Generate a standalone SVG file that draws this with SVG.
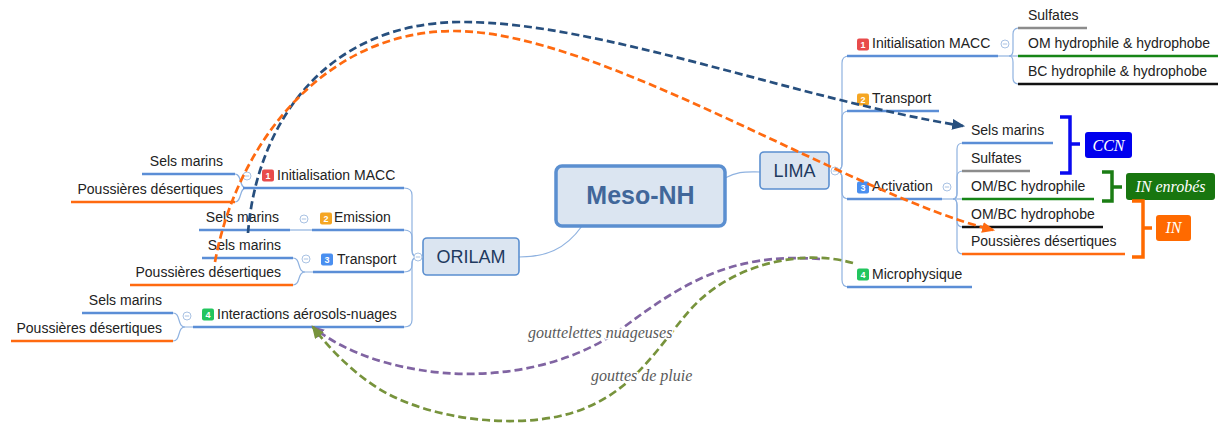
<svg xmlns="http://www.w3.org/2000/svg" width="1218" height="423" viewBox="0 0 1218 423">
<style>
.t{font-family:"Liberation Sans",Arial,sans-serif;font-size:14px;fill:#222}
.e{text-anchor:end}
.ul{fill:none;stroke-width:2.6}
.b{stroke:#5b8ed6}.o{stroke:#ff6a10}.g{stroke:#8c8c8c}.gr{stroke:#168516}.k{stroke:#111}
.thin{fill:none;stroke:#8fb2e0;stroke-width:1.2}
.ic{font-family:"Liberation Sans",Arial,sans-serif;font-size:9px;font-weight:bold;fill:#fff;text-anchor:middle}
.box{fill:#dbe5f1;stroke:#5b8fd0}
.lab{font-family:"Liberation Serif","Times New Roman",serif;font-style:italic;font-size:16px}
.tag{font-family:"Liberation Serif","Times New Roman",serif;font-style:italic;font-size:16px;fill:#fff;text-anchor:middle}
.dash{fill:none;stroke-width:2.7;stroke-dasharray:8 4}
</style>
<defs>
<g id="col"><circle r="4" fill="#fff" stroke="#a9c2e3" stroke-width="1"/><line x1="-2.2" x2="2.2" y1="0" y2="0" stroke="#a9c2e3" stroke-width="1"/></g>
<marker id="mB" viewBox="0 0 12 10" refX="10" refY="5" markerWidth="13" markerHeight="11" markerUnits="userSpaceOnUse" orient="auto"><path d="M0,0 L12,5 L0,10 z" fill="#274f7e"/></marker>
<marker id="mO" viewBox="0 0 12 10" refX="10" refY="5" markerWidth="13" markerHeight="11" markerUnits="userSpaceOnUse" orient="auto"><path d="M0,0 L12,5 L0,10 z" fill="#ff6a10"/></marker>
<marker id="mP" viewBox="0 0 12 10" refX="10" refY="5" markerWidth="13" markerHeight="11" markerUnits="userSpaceOnUse" orient="auto"><path d="M0,0 L12,5 L0,10 z" fill="#8064a2"/></marker>
<marker id="mG" viewBox="0 0 12 10" refX="10" refY="5" markerWidth="13" markerHeight="11" markerUnits="userSpaceOnUse" orient="auto"><path d="M0,0 L12,5 L0,10 z" fill="#77933c"/></marker>
</defs>
<rect width="1218" height="423" fill="#fff"/>

<g id="tree-lines">
<path class="thin" d="M725,178 C738,171 745,172 760,172"/>
<path class="thin" d="M582,226 C565,250 545,257 519,257"/>
<path class="thin" d="M418,257 Q412,257 412,250 V195 Q412,188 404,188"/>
<path class="thin" d="M418,257 Q412,257 412,250 V237 Q412,230 404,230"/>
<path class="thin" d="M418,257 Q412,257 412,263 V265 Q412,272 404,272"/>
<path class="thin" d="M418,257 Q412,257 412,264 V320 Q412,327 404,327"/>
<path class="thin" d="M235,174 C242,174 239,188 246,188"/>
<path class="thin" d="M235,202 C242,202 239,188 246,188"/>
<path class="thin" d="M290,230 H312"/>
<path class="thin" d="M293,258 C301,258 297,272 305,272 H313"/>
<path class="thin" d="M293,285 C301,285 297,272 305,272"/>
<path class="thin" d="M173,313 C181,313 177,327 185,327 H193"/>
<path class="thin" d="M173,341 C181,341 177,327 185,327"/>
<path class="thin" d="M835,171 Q842,171 842,164 V63 Q842,56 849,56"/>
<path class="thin" d="M835,171 Q842,171 842,164 V118 Q842,111 849,111"/>
<path class="thin" d="M835,171 Q842,171 842,178 V192 Q842,199 849,199"/>
<path class="thin" d="M835,171 Q842,171 842,178 V280 Q842,287 849,287"/>
<path class="thin" d="M998,56 H1018"/>
<path class="thin" d="M1009,56 Q1013,56 1013,50 V34 Q1013,28 1019,28"/>
<path class="thin" d="M1009,56 Q1013,56 1013,62 V78 Q1013,84 1019,84"/>
<path class="thin" d="M942,199 H962"/>
<path class="thin" d="M953,199 Q957,199 957,193 V149 Q957,143 963,143"/>
<path class="thin" d="M953,199 Q957,199 957,193 V177 Q957,171 963,171"/>
<path class="thin" d="M953,199 Q957,199 957,205 V221 Q957,227 963,227"/>
<path class="thin" d="M953,199 Q957,199 957,205 V248 Q957,254 963,254"/>
</g>

<g id="meso-nh"><rect class="box" x="556" y="166" width="169" height="60" rx="6" stroke-width="3.5"/><text x="640.5" y="204" text-anchor="middle" style="font-family:'Liberation Sans',Arial,sans-serif;font-size:25px;font-weight:bold;fill:#41679a">Meso-NH</text></g>
<g id="lima"><rect class="box" x="760" y="152" width="69" height="37" rx="4" stroke-width="1.6"/><text x="794.5" y="177" text-anchor="middle" style="font-family:'Liberation Sans',Arial,sans-serif;font-size:18px;fill:#1f3a5f">LIMA</text></g>
<g id="orilam"><rect class="box" x="423" y="238" width="96" height="37" rx="4" stroke-width="1.6"/><text x="471" y="263" text-anchor="middle" style="font-family:'Liberation Sans',Arial,sans-serif;font-size:18px;fill:#1f3a5f">ORILAM</text></g>

<g id="o-macc"><path class="ul b" d="M243,188 H404"/><rect x="262" y="169.5" width="12" height="12" rx="2" fill="#e84b4b"/><text class="ic" x="268" y="179">1</text><text class="t" x="277" y="180">Initialisation MACC</text></g>
<g id="o-macc-sels"><path class="ul b" d="M142,174 H235"/><text class="t e" x="223" y="166">Sels marins</text></g>
<g id="o-macc-pouss"><path class="ul o" d="M71,202 H235"/><text class="t e" x="223" y="194">Poussières désertiques</text></g>
<g id="o-emission"><path class="ul b" d="M312,230 H404"/><rect x="320" y="212.5" width="12" height="12" rx="2" fill="#f5a623"/><text class="ic" x="326" y="222">2</text><text class="t" x="334" y="222">Emission</text></g>
<g id="o-emission-sels"><path class="ul b" d="M199,230 H290"/><text class="t e" x="279" y="222">Sels marins</text></g>
<g id="o-transport"><path class="ul b" d="M313,272 H404"/><rect x="321" y="253.5" width="12" height="12" rx="2" fill="#4a8ff0"/><text class="ic" x="327" y="263">3</text><text class="t" x="337" y="264">Transport</text></g>
<g id="o-transport-sels"><path class="ul b" d="M202,258 H293"/><text class="t e" x="281" y="250">Sels marins</text></g>
<g id="o-transport-pouss"><path class="ul o" d="M130,285 H293"/><text class="t e" x="281" y="277">Poussières désertiques</text></g>
<g id="o-inter"><path class="ul b" d="M193,327 H404"/><rect x="202" y="308.5" width="12" height="12" rx="2" fill="#22c55e"/><text class="ic" x="208" y="318">4</text><text class="t" x="217" y="319">Interactions aérosols-nuages</text></g>
<g id="o-inter-sels"><path class="ul b" d="M82,313 H173"/><text class="t e" x="162" y="305">Sels marins</text></g>
<g id="o-inter-pouss"><path class="ul o" d="M11,341 H173"/><text class="t e" x="162" y="333">Poussières désertiques</text></g>

<g id="l-macc"><path class="ul b" d="M847,56 H998"/><rect x="857" y="38.5" width="12" height="12" rx="2" fill="#e84b4b"/><text class="ic" x="863" y="48">1</text><text class="t" x="872" y="48">Initialisation MACC</text></g>
<g id="l-macc-sulf"><path class="ul g" d="M1018,28 H1087"/><text class="t" x="1028" y="20">Sulfates</text></g>
<g id="l-macc-om"><path class="ul gr" d="M1018,56 H1218"/><text class="t" x="1028" y="48">OM hydrophile &amp; hydrophobe</text></g>
<g id="l-macc-bc"><path class="ul k" d="M1018,84 H1218"/><text class="t" x="1028" y="76">BC hydrophile &amp; hydrophobe</text></g>
<g id="l-transport"><path class="ul b" d="M847,111 H939"/><rect x="857" y="93.5" width="12" height="12" rx="2" fill="#f5a623"/><text class="ic" x="863" y="103">2</text><text class="t" x="872" y="103">Transport</text></g>
<g id="l-activation"><path class="ul b" d="M847,199 H942"/><rect x="857" y="181.5" width="12" height="12" rx="2" fill="#4a8ff0"/><text class="ic" x="863" y="191">3</text><text class="t" x="872" y="191">Activation</text></g>
<g id="l-act-sels"><path class="ul b" d="M962,143 H1053"/><text class="t" x="971" y="135">Sels marins</text></g>
<g id="l-act-sulf"><path class="ul g" d="M962,171 H1030"/><text class="t" x="971" y="163">Sulfates</text></g>
<g id="l-act-phil"><path class="ul gr" d="M962,199 H1094"/><text class="t" x="971" y="191">OM/BC hydrophile</text></g>
<g id="l-act-phob"><path class="ul k" d="M962,227 H1103"/><text class="t" x="971" y="219">OM/BC hydrophobe</text></g>
<g id="l-act-pouss"><path class="ul o" d="M962,254 H1125"/><text class="t" x="971" y="246">Poussières désertiques</text></g>
<g id="l-micro"><path class="ul b" d="M847,287 H972"/><rect x="857" y="268.5" width="12" height="12" rx="2" fill="#22c55e"/><text class="ic" x="863" y="278">4</text><text class="t" x="872" y="279">Microphysique</text></g>

<g id="collapse">
<use href="#col" x="247" y="176"/><use href="#col" x="304" y="219"/><use href="#col" x="306" y="259"/><use href="#col" x="187" y="316"/><use href="#col" x="418" y="257"/>
<use href="#col" x="835" y="171"/><use href="#col" x="1005" y="44"/><use href="#col" x="947" y="187"/>
</g>

<g id="ccn"><path d="M1060,117 H1070 V173 H1060 M1070,144 H1080" fill="none" stroke="#0a0af0" stroke-width="3.5"/><rect x="1085" y="132" width="47" height="26" rx="3" fill="#0000ee"/><text class="tag" x="1108.5" y="151">CCN</text></g>
<g id="in-enrobes"><path d="M1102,172 H1112 V201 H1102 M1112,187 H1122" fill="none" stroke="#1b7d14" stroke-width="3.5"/><rect x="1126" y="173" width="89" height="27" rx="3" fill="#18760f"/><text class="tag" x="1170.5" y="192">IN enrobés</text></g>
<g id="in"><path d="M1132,201 H1143 V257 H1132 M1143,228 H1152" fill="none" stroke="#ff6a00" stroke-width="3.5"/><rect x="1156" y="215" width="35" height="26" rx="3" fill="#ff6a00"/><text class="tag" x="1173.5" y="233">IN</text></g>

<g id="connectors">
<path class="dash" stroke="#274f7e" marker-end="url(#mB)" d="M248,233 C256,130 320,22 463,22 C600,22 800,100 963,126"/>
<path class="dash" stroke="#ff6a10" marker-end="url(#mO)" d="M215,262 C235,150 320,31 454,31 C600,31 850,195 993,230"/>
<path class="dash" stroke="#8064a2" marker-end="url(#mP)" d="M820,259 C730,252 680,285 620,330 C560,372 480,380 420,370 C370,362 335,345 313,327"/>
<path class="dash" stroke="#77933c" marker-end="url(#mG)" d="M853,263 C800,248 730,265 690,310 C655,350 630,400 560,416 C510,427 440,420 390,395 C360,380 330,350 313,327"/>
<text class="lab" x="528" y="338" fill="#5a5a5a" stroke="#fff" stroke-width="3" paint-order="stroke">gouttelettes nuageuses</text>
<text class="lab" x="591" y="381" fill="#5a5a5a" stroke="#fff" stroke-width="3" paint-order="stroke">gouttes de pluie</text>
</g>
</svg>
